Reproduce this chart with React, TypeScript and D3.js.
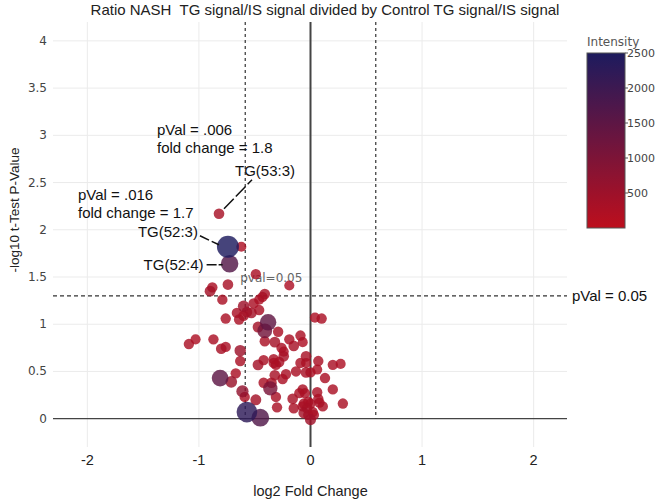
import React from 'react';
import * as d3 from 'd3';

// log2 fold change, -log10 p and intensity per lipid
const log2FC = [
  -0.82, -0.74, -0.62, -0.725, -0.49, -0.19, -0.74, -0.88, -0.90, -0.79,
  -0.41, -0.43, -0.46, -0.51, -0.60, -0.66, -0.57, -0.53, -0.46, -0.60,
  -0.64, -0.76, 0.04, 0.10, -0.38, -0.41, -0.47, -0.29, -1.09, -1.03,
  -0.87, -0.80, -0.76, -0.63, -0.63, -0.41, -0.32, -0.19, -0.09, -0.07,
  -0.15, -0.26, -0.24, -0.24, -0.33, -0.42, -0.47, -0.28, -0.31, -0.04,
  -0.09, -0.04, 0.07, 0.20, 0.27, -0.22, -0.13, -0.04, 0.00, 0.06,
  -0.25, -0.32, -0.67, -0.81, -0.71, 0.13, -0.42, -0.36, -0.35, -0.61,
  -0.59, -0.49, -0.31, -0.30, -0.16, -0.15, -0.07, -0.05, -0.10, 0.06,
  0.07, 0.20, 0.29, 0.11, -0.06, -0.03, 0.00, 0.02, -0.06, -0.02,
  0.03, 0.00, -0.57, -0.45, -0.02, 0.08, -0.07, -0.33
];
const negLog10P = [
  2.17, 1.82, 1.82, 1.64, 1.53, 1.41, 1.42, 1.39, 1.35, 1.26,
  1.32, 1.29, 1.26, 1.22, 1.19, 1.12, 1.13, 1.12, 1.15, 1.09,
  1.05, 1.06, 1.07, 1.06, 1.02, 0.93, 0.97, 0.92, 0.79, 0.84,
  0.84, 0.74, 0.76, 0.72, 0.61, 0.82, 0.81, 0.84, 0.88, 0.81,
  0.77, 0.75, 0.71, 0.66, 0.63, 0.62, 0.57, 0.60, 0.57, 0.66,
  0.59, 0.59, 0.61, 0.57, 0.58, 0.47, 0.50, 0.49, 0.49, 0.52,
  0.42, 0.46, 0.48, 0.43, 0.39, 0.43, 0.38, 0.32, 0.38, 0.29,
  0.23, 0.20, 0.23, 0.12, 0.21, 0.11, 0.31, 0.27, 0.27, 0.28,
  0.21, 0.31, 0.16, 0.13, 0.16, 0.11, 0.16, 0.07, 0.06, 0.04,
  0.04, -0.01, 0.07, 0.01, 0.18, 0.17, 0.13, 0.59
];
const intensity = [
  350, 2500, 250, 1650, 300, 250, 350, 300, 400, 300,
  350, 300, 250, 300, 500, 300, 350, 400, 300, 350,
  300, 300, 250, 300, 1450, 1150, 400, 300, 300, 250,
  300, 350, 300, 500, 300, 300, 400, 300, 300, 250,
  350, 300, 250, 350, 300, 300, 400, 300, 300, 350,
  300, 250, 300, 300, 250, 300, 300, 350, 300, 250,
  300, 350, 300, 1500, 550, 300, 300, 1050, 350, 650,
  300, 400, 300, 300, 350, 300, 300, 300, 300, 300,
  300, 300, 300, 300, 300, 350, 300, 300, 400, 300,
  300, 450, 2250, 1700, 300, 300, 300, 300
];

const xTicks = [-2, -1, 0, 1, 2];
const yTicks = [0, 0.5, 1, 1.5, 2, 2.5, 3, 3.5, 4];
const colorTicks = [500, 1000, 1500, 2000, 2500];

const foldCutoff = Math.log2(1.5);
const pCutoff = -Math.log10(0.05);

const W = 657;
const H = 501;
const left = 55;
const right = 566;
const top = 22;
const bottom = 447;

const sans = '"Liberation Sans", Arial, sans-serif';
const verdana = 'Verdana, "DejaVu Sans", sans-serif';

const App: React.FC = () => {
  const x = d3.scaleLinear().domain([-2.29, 2.29]).range([left, right]);
  const y = d3.scaleLinear().domain([-0.3, 4.2]).range([bottom, top]);
  const color = d3.scaleLinear<string>()
    .domain([0, 2500])
    .range(['#bd0f1d', '#1d1b5e'])
    .interpolate(d3.interpolateRgb);
  const radius = d3.scaleLinear().domain([0, 2500]).range([4.4, 11]);

  // colorbar
  const cbX = 587;
  const cbW = 38;
  const cb = d3.scaleLinear().domain([0, 2500]).range([228, 53]);
  const stops = d3.range(0, 1.0001, 0.1);

  const points = log2FC
    .map((fc, i) => ({ fc, p: negLog10P[i], v: intensity[i], i }))
    .sort((a, b) => a.v - b.v);

  const pt = (i: number) => [x(log2FC[i]), y(negLog10P[i])];
  const [ax, ay] = pt(0); // TG(53:3)
  const [bx, by] = pt(1); // TG(52:3)
  const [cx, cy] = pt(3); // TG(52:4)

  return (
    <div style={{ position: 'absolute', left: 0, top: 0 }}>
      <svg width={W} height={H} style={{ display: 'block', background: '#fff' }}>
        <defs>
          <linearGradient id="cbar" x1="0" y1="1" x2="0" y2="0">
            {stops.map(s => (
              <stop key={s} offset={s} stopColor={color(s * 2500)} />
            ))}
          </linearGradient>
        </defs>

        {/* grid */}
        {yTicks.filter(t => t !== 0).map(t => (
          <line key={'gy' + t} x1={left - 2} x2={right + 1} y1={y(t)} y2={y(t)}
            stroke="#ebebeb" strokeWidth={1} />
        ))}
        {xTicks.filter(t => t !== 0).map(t => (
          <line key={'gx' + t} x1={x(t)} x2={x(t)} y1={top} y2={bottom}
            stroke="#ebebeb" strokeWidth={1} />
        ))}

        {/* zero lines */}
        <line x1={left - 2} x2={right + 1} y1={y(0)} y2={y(0)} stroke="#444" strokeWidth={1.3} />
        <line x1={x(0)} x2={x(0)} y1={top} y2={bottom} stroke="#444" strokeWidth={2} />

        {/* cutoffs */}
        {[-foldCutoff, foldCutoff].map(f => (
          <line key={'fc' + f} x1={x(f)} x2={x(f)} y1={top} y2={y(0)}
            stroke="#333" strokeWidth={1.2} strokeDasharray="3,3" />
        ))}
        <line x1={left - 2} x2={right + 1} y1={y(pCutoff)} y2={y(pCutoff)}
          stroke="#333" strokeWidth={1.2} strokeDasharray="4,3" />
        <text x={right + 6} y={y(pCutoff) + 5} fontFamily={sans} fontSize={15} fill="#111">pVal = 0.05</text>
        <text x={x(-0.63)} y={y(pCutoff) - 14} fontFamily={verdana} fontSize={12} fill="#666">pval=0.05</text>

        {/* points */}
        {points.map(d => (
          <circle key={d.i} cx={x(d.fc)} cy={y(d.p)} r={radius(d.v)}
            fill={color(d.v)} fillOpacity={0.82} />
        ))}

        {/* annotations */}
        <g fontFamily={sans} fontSize={15} fill="#111">
          <text x={157} y={135}>pVal = .006</text>
          <text x={157} y={153}>fold change = 1.8</text>
          <text x={ax + 46} y={ay - 38} textAnchor="middle">TG(53:3)</text>
          <line x1={ax + 5} x2={ax + 33} y1={ay - 5} y2={ay - 34} stroke="#111" strokeWidth={1.5} strokeDasharray="14,3" />

          <text x={78} y={200}>pVal = .016</text>
          <text x={78} y={218}>fold change = 1.7</text>
          <text x={bx - 30} y={by - 10} textAnchor="end">TG(52:3)</text>
          <line x1={bx - 28} x2={bx - 9} y1={by - 11} y2={by - 2} stroke="#111" strokeWidth={1.5} strokeDasharray="10,3" />

          <text x={cx - 26} y={cy + 6} textAnchor="end">TG(52:4)</text>
          <line x1={cx - 23} x2={cx - 7} y1={cy + 1} y2={cy + 1} stroke="#111" strokeWidth={1.5} strokeDasharray="10,2" />
        </g>

        {/* y axis */}
        {yTicks.map(t => (
          <text key={'yt' + t} x={left - 8} y={y(t) + 4} textAnchor="end"
            fontFamily={verdana} fontSize={12} fill="#444">{t}</text>
        ))}
        {/* x axis */}
        {xTicks.map(t => (
          <text key={'xt' + t} x={x(t)} y={465} textAnchor="middle"
            fontFamily={sans} fontSize={14.5} fill="#222">{t}</text>
        ))}

        <text x={x(0)} y={496} textAnchor="middle" fontFamily={sans} fontSize={14.5} fill="#222">log2 Fold Change</text>
        <text transform="translate(19,210) rotate(-90)" textAnchor="middle"
          fontFamily={sans} fontSize={13.5} fill="#222">-log10 t-Test P-Value</text>

        <text x={325} y={15} textAnchor="middle" fontFamily={sans} fontSize={15} fill="#222"
          style={{ whiteSpace: 'pre' }}>{'Ratio NASH  TG signal/IS signal divided by Control TG signal/IS signal'}</text>

        {/* colorbar */}
        <text x={cbX} y={46} fontFamily={verdana} fontSize={12} fill="#555">Intensity</text>
        <rect x={cbX} y={cb(2500)} width={cbW} height={cb(0) - cb(2500)} fill="url(#cbar)"
          stroke="#555" strokeWidth={1} />
        {colorTicks.map(t => (
          <g key={'ct' + t}>
            <line x1={cbX + cbW} x2={cbX + cbW + 3} y1={cb(t)} y2={cb(t)} stroke="#555" />
            <text x={cbX + cbW + 2} y={cb(t) + 4} fontFamily={verdana} fontSize={11} fill="#444">{t}</text>
          </g>
        ))}
      </svg>
    </div>
  );
};

export default App;
